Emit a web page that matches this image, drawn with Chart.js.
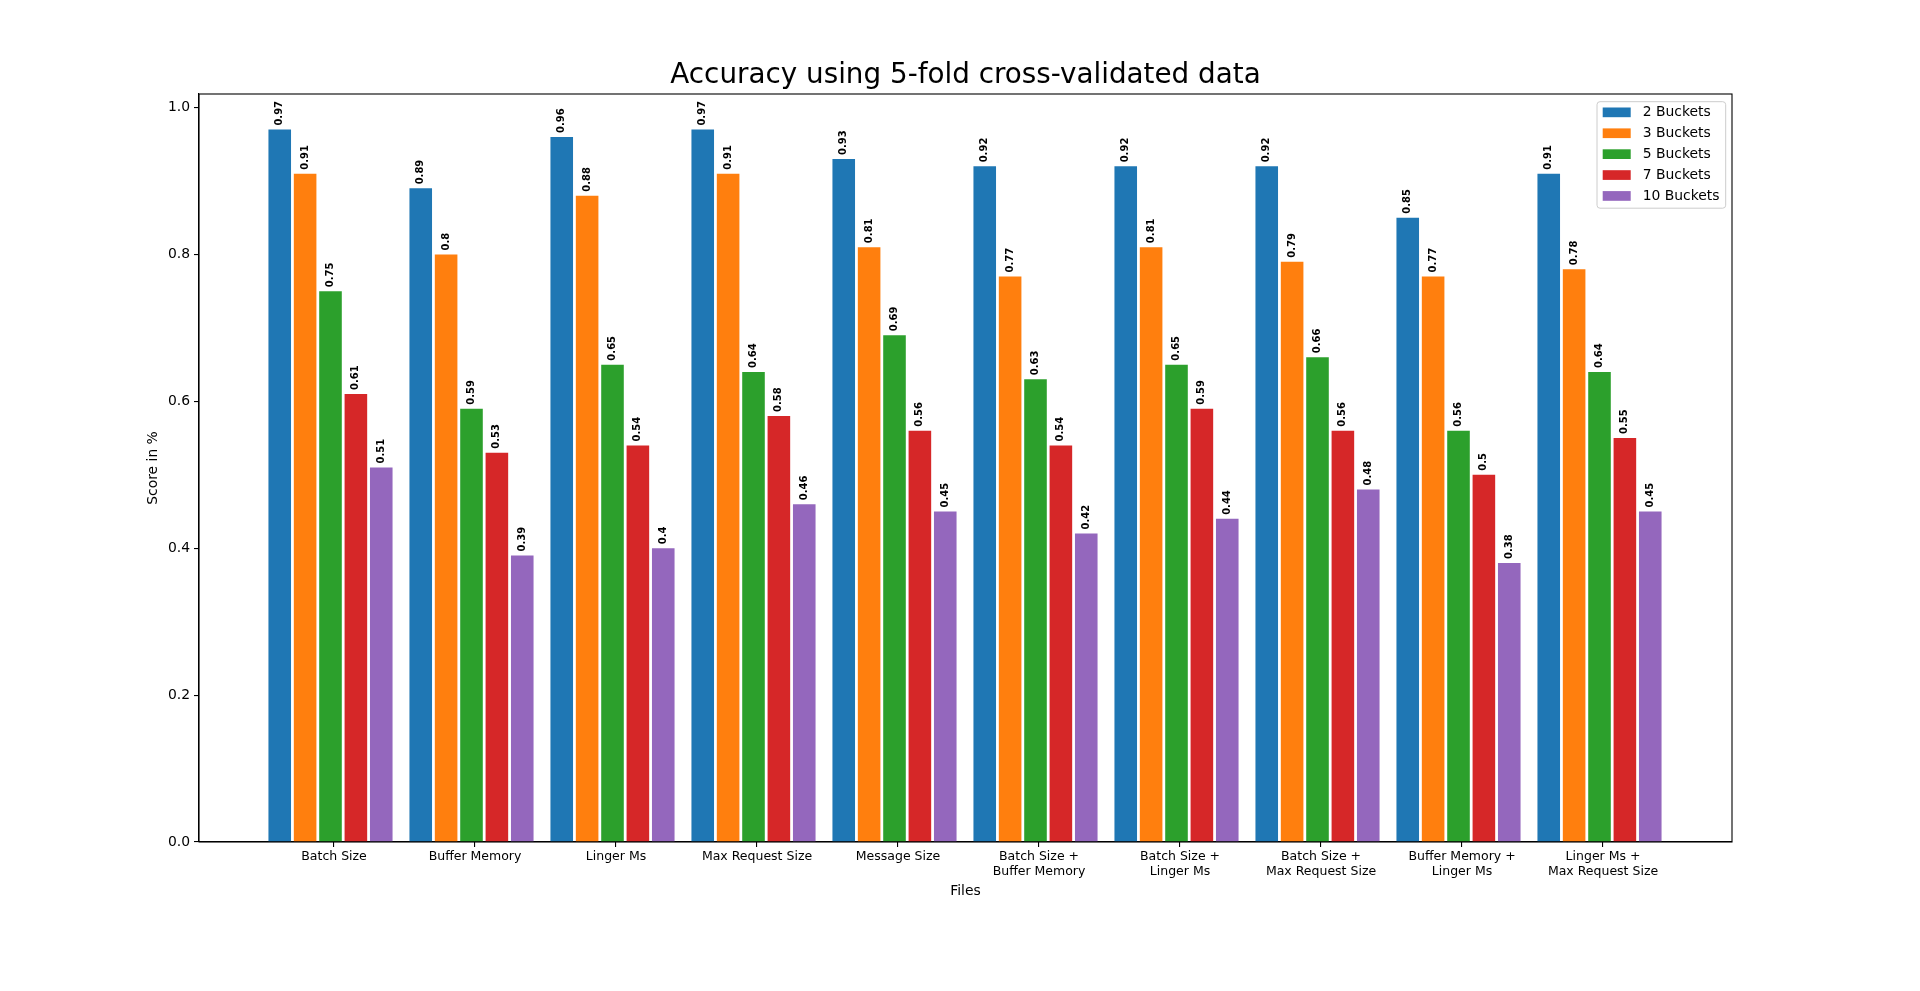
<!DOCTYPE html>
<html>
<head>
<meta charset="utf-8">
<title>Accuracy using 5-fold cross-validated data</title>
<script src="https://cdn.jsdelivr.net/npm/chart.js@4.4.1/dist/chart.umd.min.js"></script>
<style>
    html, body { margin: 0; padding: 0; background: #fff; }
    #wrap { width: 1920px; height: 991px; }
</style>
</head>
<body>
<div id="wrap"><canvas id="accuracyChart" width="1920" height="991"></canvas></div>
<script>
// Chart data
const categories = [
    'Batch Size',
    'Buffer Memory',
    'Linger Ms',
    'Max Request Size',
    'Message Size',
    'Batch Size +\nBuffer Memory',
    'Batch Size +\nLinger Ms',
    'Batch Size +\nMax Request Size',
    'Buffer Memory +\nLinger Ms',
    'Linger Ms +\nMax Request Size'
];
const seriesNames = ['2 Buckets', '3 Buckets', '5 Buckets', '7 Buckets', '10 Buckets'];
const buckets2 = [0.97, 0.89, 0.96, 0.97, 0.93, 0.92, 0.92, 0.92, 0.85, 0.91];
const buckets3 = [0.91, 0.8, 0.88, 0.91, 0.81, 0.77, 0.81, 0.79, 0.77, 0.78];
const buckets5 = [0.75, 0.59, 0.65, 0.64, 0.69, 0.63, 0.65, 0.66, 0.56, 0.64];
const buckets7 = [0.61, 0.53, 0.54, 0.58, 0.56, 0.54, 0.59, 0.56, 0.5, 0.55];
const buckets10 = [0.51, 0.39, 0.4, 0.46, 0.45, 0.42, 0.44, 0.48, 0.38, 0.45];
const yTicks = [0.0, 0.2, 0.4, 0.6, 0.8, 1.0];

const seriesValues = [buckets2, buckets3, buckets5, buckets7, buckets10];
const colors = ['#1f77b4', '#ff7f0e', '#2ca02c', '#d62728', '#9467bd'];
const FONT = "'DejaVu Sans', 'Liberation Sans', sans-serif";

Chart.defaults.color = '#000';
Chart.defaults.font.family = FONT;

// center the title over the plot area, like matplotlib does
const titleOverAxes = {
    id: 'titleOverAxes',
    afterLayout(chart) {
        if (chart.titleBlock) {
            chart.titleBlock.left = chart.chartArea.left;
            chart.titleBlock.right = chart.chartArea.right;
            chart.titleBlock.width = chart.chartArea.right - chart.chartArea.left;
        }
    }
};

// value labels rotated above every bar
const valueLabels = {
    id: 'valueLabels',
    afterDatasetsDraw(chart) {
        const ctx = chart.ctx;
        ctx.save();
        ctx.font = 'bold 10px ' + FONT;
        ctx.fillStyle = '#000';
        ctx.textAlign = 'left';
        ctx.textBaseline = 'middle';
        chart.data.datasets.forEach((ds, di) => {
            const meta = chart.getDatasetMeta(di);
            meta.data.forEach((bar, i) => {
                ctx.save();
                ctx.translate(bar.x, bar.y - 4);
                ctx.rotate(-Math.PI / 2);
                ctx.fillText(String(ds.data[i].y), 0, 0);
                ctx.restore();
            });
        });
        ctx.restore();
    }
};

// axes frame + legend box like matplotlib
const frameAndLegend = {
    id: 'frameAndLegend',
    afterDraw(chart) {
        const ctx = chart.ctx;
        const a = chart.chartArea;
        ctx.save();
        ctx.strokeStyle = '#000';
        ctx.lineWidth = 1.1;
        ctx.strokeRect(a.left, a.top, a.right - a.left, a.bottom - a.top);

        // legend
        const lx = 1597, ly = 101.7, lw = 128.7, lh = 106.5;
        ctx.fillStyle = 'rgba(255,255,255,0.8)';
        ctx.strokeStyle = '#cccccc';
        ctx.lineWidth = 1;
        ctx.beginPath();
        ctx.roundRect(lx, ly, lw, lh, 3);
        ctx.fill();
        ctx.stroke();

        ctx.font = '13.9px ' + FONT;
        ctx.textBaseline = 'middle';
        ctx.textAlign = 'left';
        chart.data.datasets.forEach((ds, i) => {
            const cy = 112.3 + i * 20.9;
            ctx.fillStyle = ds.backgroundColor;
            ctx.fillRect(1602.7, cy - 4.8, 28, 9.7);
            ctx.fillStyle = '#000';
            ctx.fillText(ds.label, 1642.7, cy + 0.5);
        });
        ctx.restore();
    }
};

const tickShift = 0.025;

new Chart(document.getElementById('accuracyChart'), {
    type: 'bar',
    data: {
        datasets: seriesNames.map((name, s) => ({
            label: name,
            data: seriesValues[s].map((v, i) => ({ x: i, y: v })),
            backgroundColor: colors[s],
            borderWidth: 0,
            categoryPercentage: 0.9,
            barPercentage: 0.89
        }))
    },
    options: {
        responsive: false,
        animation: false,
        devicePixelRatio: 1,
        layout: {
            padding: { left: 145, right: 188, top: 0, bottom: 91.6 }
        },
        plugins: {
            legend: { display: false },
            tooltip: { enabled: false },
            title: {
                display: true,
                text: 'Accuracy using 5-fold cross-validated data',
                color: '#000',
                font: { family: FONT, size: 27.8, weight: 'normal', lineHeight: 1.0 },
                padding: { top: 61.6, bottom: 4.6 }
            }
        },
        scales: {
            x: {
                type: 'linear',
                min: -0.9326,
                max: 9.9397,
                offset: false,
                afterBuildTicks(scale) {
                    scale.ticks = categories.map((c, i) => ({ value: i + tickShift }));
                },
                afterFit(scale) {
                    scale.height = 57.4;
                },
                ticks: {
                    autoSkip: false,
                    maxRotation: 0,
                    minRotation: 0,
                    padding: 2.2,
                    color: '#000',
                    font: { family: FONT, size: 12.5, lineHeight: '15px' },
                    callback: (value, index) => categories[index].split('\n')
                },
                grid: {
                    offset: false,
                    drawOnChartArea: false,
                    drawTicks: true,
                    tickLength: 5,
                    color: '#000',
                    lineWidth: 1.1
                },
                border: { display: true, color: '#000', width: 1.1 },
                title: {
                    display: true,
                    text: 'Files',
                    color: '#000',
                    font: { family: FONT, size: 13.9, lineHeight: 1.2 },
                    padding: 0
                }
            },
            y: {
                min: 0,
                max: 1.0185,
                afterBuildTicks(scale) {
                    scale.ticks = yTicks.map(v => ({ value: v }));
                },
                afterFit(scale) {
                    scale.width = 54;
                },
                ticks: {
                    padding: 4,
                    color: '#000',
                    font: { family: FONT, size: 13.9 },
                    callback: value => value.toFixed(1)
                },
                grid: {
                    drawOnChartArea: false,
                    drawTicks: true,
                    tickLength: 5,
                    color: '#000',
                    lineWidth: 1.1
                },
                border: { display: true, color: '#000', width: 1.1 },
                title: {
                    display: true,
                    text: 'Score in %',
                    color: '#000',
                    font: { family: FONT, size: 13.9, lineHeight: 1.2 },
                    padding: 0
                }
            }
        }
    },
    plugins: [titleOverAxes, valueLabels, frameAndLegend]
});
</script>
</body>
</html>
